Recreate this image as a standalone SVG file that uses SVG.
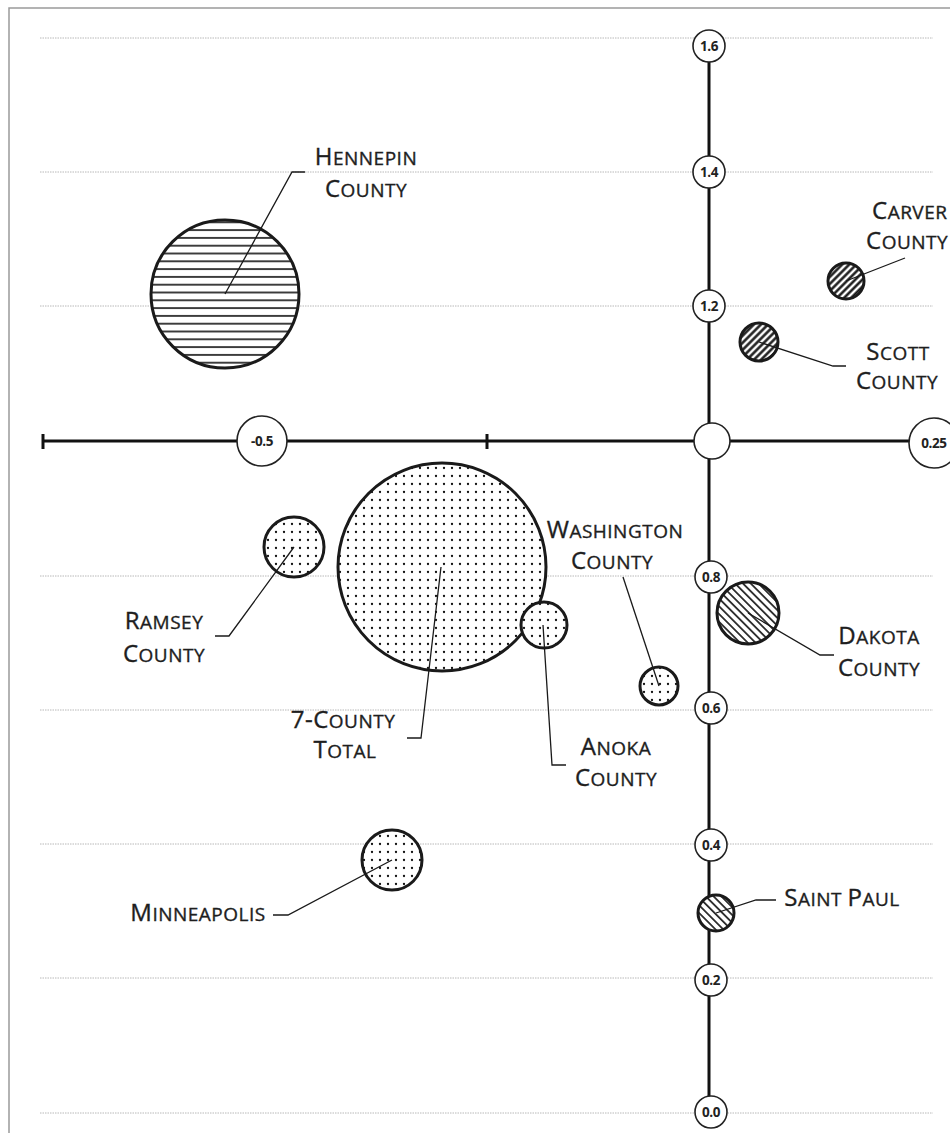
<svg xmlns="http://www.w3.org/2000/svg" width="950" height="1133" viewBox="0 0 950 1133">
<style>
.grid{stroke:#b8b8b8;stroke-width:1;stroke-dasharray:1.5 1;fill:none}
.axis{stroke:#111;stroke-width:3;fill:none}
.tick{fill:#fff;stroke:#222;stroke-width:1.6}
.num{font-family:"Open Sans","Liberation Sans",sans-serif;font-size:13.5px;font-weight:700;fill:#222;text-anchor:middle;letter-spacing:-0.4px}
.bub{stroke:#1a1a1a;stroke-width:3}
.lead{stroke:#1a1a1a;stroke-width:1.3;fill:none}
.lbl{font-family:"Open Sans","Liberation Sans",sans-serif;font-size:19px;letter-spacing:0.5px;fill:#1e1e1e;stroke:#1e1e1e;stroke-width:0.35;text-anchor:middle}
.st{text-anchor:start}
.cap{font-size:24px}
</style>
<defs>
<pattern id="dots" width="8" height="8" patternUnits="userSpaceOnUse"><rect width="8" height="8" fill="#fff"/><circle cx="4" cy="4" r="1.15" fill="#111"/></pattern>
<pattern id="hlines" width="8" height="7.8" patternUnits="userSpaceOnUse"><rect width="8" height="7.8" fill="#fff"/><line x1="0" y1="3.9" x2="8" y2="3.9" stroke="#111" stroke-width="1.6"/></pattern>
<pattern id="fwd" width="5" height="5" patternUnits="userSpaceOnUse" patternTransform="rotate(45)"><rect width="5" height="5" fill="#fff"/><line x1="2.5" y1="0" x2="2.5" y2="5" stroke="#111" stroke-width="2.4"/></pattern>
<pattern id="back" width="5.5" height="5.5" patternUnits="userSpaceOnUse" patternTransform="rotate(-45)"><rect width="5.5" height="5.5" fill="#fff"/><line x1="2.75" y1="0" x2="2.75" y2="5.5" stroke="#111" stroke-width="1.6"/></pattern>
</defs>
<rect width="950" height="1133" fill="#fff"/>
<g id="frame" stroke="#9a9a9a" stroke-width="1.5" fill="none"><path d="M9,1133 V8 H950"/></g>
<g id="gridlines">
<line class="grid" x1="40" y1="38" x2="933" y2="38"/>
<line class="grid" x1="40" y1="172" x2="933" y2="172"/>
<line class="grid" x1="40" y1="306" x2="933" y2="306"/>
<line class="grid" x1="40" y1="576" x2="933" y2="576"/>
<line class="grid" x1="40" y1="710" x2="933" y2="710"/>
<line class="grid" x1="40" y1="844" x2="933" y2="844"/>
<line class="grid" x1="40" y1="978" x2="933" y2="978"/>
<line class="grid" x1="40" y1="1113" x2="933" y2="1113"/>
</g>
<g id="axes">
<line class="axis" x1="709" y1="46" x2="709" y2="1112"/>
<line class="axis" x1="43" y1="441" x2="912" y2="441"/>
<line class="axis" x1="43" y1="434" x2="43" y2="449"/>
<line class="axis" x1="487" y1="434" x2="487" y2="449"/>
</g>
<g id="axis-labels">
<circle class="tick" cx="709" cy="46" r="16"/><text class="num" x="709" y="51">1.6</text>
<circle class="tick" cx="709" cy="172" r="16"/><text class="num" x="709" y="177">1.4</text>
<circle class="tick" cx="709" cy="306" r="16"/><text class="num" x="709" y="311">1.2</text>
<circle class="tick" cx="711" cy="577" r="16"/><text class="num" x="711" y="582">0.8</text>
<circle class="tick" cx="711" cy="708" r="16"/><text class="num" x="711" y="713">0.6</text>
<circle class="tick" cx="711" cy="845" r="16"/><text class="num" x="711" y="850">0.4</text>
<circle class="tick" cx="711" cy="980" r="16"/><text class="num" x="711" y="985">0.2</text>
<circle class="tick" cx="711" cy="1112" r="16"/><text class="num" x="711" y="1117">0.0</text>
<circle class="tick" cx="712" cy="441" r="18"/>
<circle class="tick" cx="262" cy="441" r="25"/><text class="num" x="262" y="446">-0.5</text>
<circle class="tick" cx="934" cy="443" r="25"/><text class="num" x="934" y="448">0.25</text>
</g>
<g id="hennepin"><circle class="bub" cx="225" cy="294" r="74" fill="url(#hlines)"/></g>
<g id="carver"><circle class="bub" cx="846" cy="281" r="18" fill="url(#fwd)"/></g>
<g id="scott"><circle class="bub" cx="759" cy="342" r="19" fill="url(#fwd)"/></g>
<g id="ramsey"><circle class="bub" cx="294" cy="547" r="30" fill="url(#dots)"/></g>
<g id="seven-county"><circle class="bub" cx="442" cy="567" r="104" fill="url(#dots)"/></g>
<g id="anoka"><circle class="bub" cx="544" cy="625" r="23" fill="url(#dots)"/></g>
<g id="washington"><circle class="bub" cx="659" cy="686" r="19" fill="url(#dots)"/></g>
<g id="dakota"><circle class="bub" cx="748" cy="613" r="31" fill="url(#back)"/></g>
<g id="minneapolis"><circle class="bub" cx="392" cy="860" r="30" fill="url(#dots)"/></g>
<g id="saint-paul"><circle class="bub" cx="716" cy="913" r="18" fill="url(#back)"/></g>
<g id="connectors">
<path class="lead" d="M225,294 L292,172 H305"/>
<path class="lead" d="M846,281 L905,258"/>
<path class="lead" d="M759,342 L833,366 H846"/>
<path class="lead" d="M294,547 L229,636 H215"/>
<path class="lead" d="M441,567 L421,738 H407"/>
<path class="lead" d="M543,625 L552,765 H566"/>
<path class="lead" d="M659,686 L623,577"/>
<path class="lead" d="M748,613 L820,655 H834"/>
<path class="lead" d="M392,860 L288,915 H273"/>
<path class="lead" d="M716,913 L756,900 H776"/>
</g>
<g id="labels">
<text class="lbl" x="366" y="165"><tspan class="cap">H</tspan>ENNEPIN</text>
<text class="lbl" x="366" y="197"><tspan class="cap">C</tspan>OUNTY</text>
<text class="lbl st" x="872" y="219"><tspan class="cap">C</tspan>ARVER</text>
<text class="lbl st" x="866" y="249"><tspan class="cap">C</tspan>OUNTY</text>
<text class="lbl" x="898" y="360"><tspan class="cap">S</tspan>COTT</text>
<text class="lbl" x="897" y="389"><tspan class="cap">C</tspan>OUNTY</text>
<text class="lbl" x="615" y="538"><tspan class="cap">W</tspan>ASHINGTON</text>
<text class="lbl" x="612" y="569"><tspan class="cap">C</tspan>OUNTY</text>
<text class="lbl" x="164" y="629"><tspan class="cap">R</tspan>AMSEY</text>
<text class="lbl" x="164" y="662"><tspan class="cap">C</tspan>OUNTY</text>
<text class="lbl" x="879" y="644"><tspan class="cap">D</tspan>AKOTA</text>
<text class="lbl" x="879" y="676"><tspan class="cap">C</tspan>OUNTY</text>
<text class="lbl" x="343" y="728"><tspan class="cap">7-C</tspan>OUNTY</text>
<text class="lbl" x="345" y="758"><tspan class="cap">T</tspan>OTAL</text>
<text class="lbl" x="616" y="755"><tspan class="cap">A</tspan>NOKA</text>
<text class="lbl" x="616" y="786"><tspan class="cap">C</tspan>OUNTY</text>
<text class="lbl" x="198" y="921"><tspan class="cap">M</tspan>INNEAPOLIS</text>
<text class="lbl" x="842" y="906"><tspan class="cap">S</tspan>AINT <tspan class="cap">P</tspan>AUL</text>
</g>
</svg>
